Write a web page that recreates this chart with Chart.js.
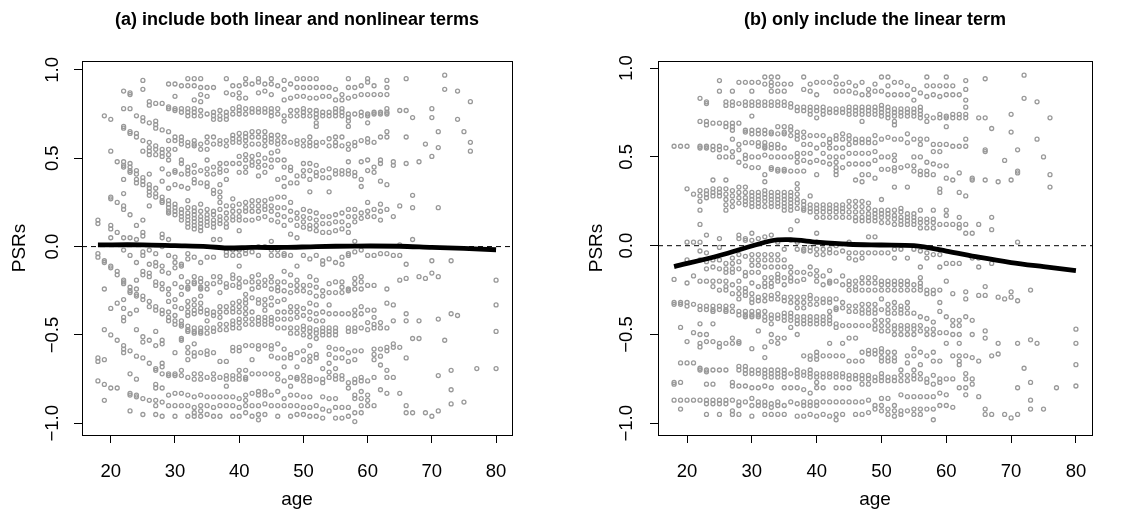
<!DOCTYPE html>
<html>
<head>
<title>PSRs vs age</title>
<script src="https://cdn.jsdelivr.net/npm/chart.js"></script>
<style>
  body { margin: 0; background: #fff; }
  .panel { position: absolute; top: 0; width: 572px; height: 523px; }
  #panelA { left: 0; }
  #panelB { left: 572px; }
</style>
</head>
<body>
<div class="panel" id="panelA"><canvas id="chartA" width="572" height="523"></canvas></div>
<div class="panel" id="panelB"><canvas id="chartB" width="572" height="523"></canvas></div>
<script>
const titleA = '(a) include both linear and nonlinear terms';
const titleB = '(b) only include the linear term';
const xTicks = [20, 30, 40, 50, 60, 70, 80];
const yTicks = [-1, -0.5, 0, 0.5, 1];

// ages that have observations (one list of PSR values per age, per panel)
const ages = [18,19,20,21,22,23,24,25,26,27,28,29,30,31,32,33,34,35,36,37,38,39,40,41,42,43,44,45,46,47,
  48,49,50,51,52,53,54,55,56,57,58,59,60,61,62,63,64,65,66,67,68,69,70,71,72,73,74,75,76,77,80];

const psrA = [
  [0.15,0.13,-0.04,-0.06,-0.63,-0.65,-0.76],
  [0.74,-0.08,-0.09,-0.24,-0.47,-0.64,-0.78,-0.87],
  [0.72,0.54,0.28,0.27,0.12,0.10,0.05,-0.11,-0.12,-0.35,-0.50,-0.80],
  [0.48,0.25,0.08,-0.14,-0.16,-0.32,-0.53,-0.80],
  [0.88,0.78,0.68,0.67,0.48,0.46,0.45,0.38,0.30,0.23,0.21,0.05,-0.02,-0.19,-0.20,-0.21,-0.30,-0.35,-0.40,-0.42,-0.56,-0.58,-0.60],
  [0.87,0.86,0.78,0.65,0.64,0.47,0.45,0.43,0.42,0.18,0.05,-0.05,-0.23,-0.25,-0.26,-0.38,-0.59,-0.72,-0.83,-0.84,-0.93],
  [0.74,0.64,0.62,0.43,0.41,0.38,0.36,0.12,0.04,-0.09,-0.19,-0.24,-0.27,-0.28,-0.36,-0.47,-0.62,-0.75,-0.84,-0.85],
  [0.94,0.89,0.73,0.71,0.60,0.54,0.39,0.37,0.35,0.15,0.08,0.06,-0.03,-0.05,-0.14,-0.16,-0.28,-0.30,-0.51,-0.54,-0.63,-0.86,-0.95],
  [0.82,0.80,0.70,0.59,0.56,0.54,0.52,0.41,0.35,0.33,0.31,0.29,0.23,-0.02,-0.10,-0.15,-0.17,-0.31,-0.34,-0.53,-0.66,-0.87],
  [0.81,0.71,0.69,0.67,0.57,0.55,0.52,0.33,0.30,0.28,-0.04,-0.09,-0.11,-0.20,-0.22,-0.34,-0.36,-0.48,-0.56,-0.69,-0.70,-0.78,-0.80,-0.87,-0.90,-0.95],
  [0.81,0.66,0.55,0.53,0.51,0.44,0.37,0.28,0.26,0.25,0.07,0.05,0.00,-0.11,-0.14,-0.21,-0.24,-0.36,-0.38,-0.53,-0.55,-0.66,-0.68,-0.72,-0.80,-0.88,-0.96],
  [0.92,0.79,0.78,0.65,0.60,0.55,0.52,0.49,0.41,0.33,0.26,0.24,0.22,0.20,0.19,0.04,-0.05,-0.15,-0.24,-0.27,-0.31,-0.37,-0.40,-0.42,-0.72,-0.73,-0.84,-0.90],
  [0.92,0.85,0.78,0.77,0.62,0.60,0.55,0.43,0.42,0.35,0.24,0.22,0.20,0.18,-0.06,-0.09,-0.12,-0.21,-0.30,-0.34,-0.39,-0.42,-0.44,-0.60,-0.72,-0.73,-0.83,-0.90,-0.96],
  [0.91,0.78,0.76,0.62,0.60,0.58,0.49,0.47,0.41,0.34,0.21,0.19,0.17,0.15,-0.10,-0.11,-0.17,-0.23,-0.27,-0.35,-0.42,-0.44,-0.45,-0.52,-0.53,-0.70,-0.73,-0.83,-0.90],
  [0.95,0.91,0.78,0.76,0.74,0.59,0.57,0.45,0.43,0.41,0.33,0.26,0.22,0.19,0.17,0.15,0.13,0.11,-0.04,-0.07,-0.20,-0.23,-0.24,-0.31,-0.34,-0.37,-0.39,-0.45,-0.47,-0.48,-0.57,-0.60,-0.64,-0.74,-0.84,-0.90,-0.96],
  [0.95,0.91,0.83,0.78,0.76,0.74,0.60,0.58,0.57,0.46,0.42,0.38,0.36,0.22,0.20,0.18,0.16,0.14,0.12,0.10,-0.06,-0.17,-0.20,-0.21,-0.30,-0.33,-0.36,-0.38,-0.46,-0.48,-0.49,-0.55,-0.60,-0.62,-0.72,-0.75,-0.85,-0.91,-0.94,-0.96],
  [0.95,0.90,0.86,0.82,0.77,0.74,0.58,0.55,0.43,0.36,0.24,0.20,0.17,0.15,0.13,0.11,0.09,-0.09,-0.18,-0.20,-0.23,-0.24,-0.28,-0.32,-0.35,-0.37,-0.46,-0.48,-0.49,-0.60,-0.72,-0.75,-0.84,-0.90,-0.93,-0.96],
  [0.90,0.85,0.75,0.62,0.59,0.55,0.49,0.44,0.41,0.36,0.34,0.21,0.18,0.16,0.14,0.12,-0.06,-0.21,-0.24,-0.36,-0.38,-0.42,-0.46,-0.49,-0.59,-0.61,-0.74,-0.85,-0.90,-0.95],
  [0.90,0.76,0.74,0.72,0.62,0.58,0.45,0.41,0.32,0.30,0.20,0.18,0.15,0.13,0.11,0.04,-0.06,-0.17,-0.21,-0.37,-0.39,-0.46,-0.48,-0.60,-0.72,-0.75,-0.85,-0.91,-0.96],
  [0.77,0.74,0.72,0.60,0.58,0.47,0.44,0.42,0.35,0.31,0.28,0.25,0.21,0.17,0.15,0.13,0.04,-0.17,-0.20,-0.26,-0.34,-0.37,-0.40,-0.44,-0.47,-0.65,-0.74,-0.85,-0.90,-0.96],
  [0.95,0.87,0.76,0.74,0.72,0.60,0.57,0.47,0.43,0.38,0.23,0.19,0.16,0.13,0.11,-0.03,-0.05,-0.21,-0.23,-0.34,-0.37,-0.44,-0.47,-0.65,-0.73,-0.75,-0.79,-0.85,-0.90],
  [0.91,0.86,0.78,0.75,0.63,0.61,0.59,0.47,0.27,0.23,0.20,0.17,0.15,-0.02,-0.05,-0.16,-0.18,-0.22,-0.32,-0.35,-0.37,-0.42,-0.44,-0.46,-0.57,-0.59,-0.73,-0.75,-0.85,-0.90,-0.96],
  [0.91,0.87,0.84,0.79,0.77,0.75,0.64,0.61,0.59,0.51,0.47,0.42,0.24,0.20,0.17,0.15,0.09,-0.02,-0.05,-0.11,-0.18,-0.21,-0.23,-0.31,-0.34,-0.37,-0.41,-0.43,-0.46,-0.57,-0.59,-0.70,-0.73,-0.75,-0.86,-0.91,-0.96],
  [0.95,0.92,0.84,0.78,0.75,0.64,0.62,0.60,0.57,0.52,0.49,0.45,0.42,0.25,0.22,0.20,0.15,-0.02,-0.04,-0.20,-0.27,-0.30,-0.32,-0.35,-0.38,-0.41,-0.44,-0.56,-0.70,-0.74,-0.75,-0.84,-0.87,-0.90,-0.94],
  [0.92,0.78,0.76,0.65,0.62,0.58,0.51,0.48,0.46,0.26,0.23,0.20,0.15,-0.03,-0.17,-0.20,-0.24,-0.29,-0.37,-0.41,-0.44,-0.56,-0.64,-0.72,-0.83,-0.90,-0.96],
  [0.95,0.93,0.87,0.78,0.76,0.65,0.62,0.58,0.52,0.48,0.45,0.40,0.26,0.23,0.20,0.16,0.00,-0.05,-0.16,-0.20,-0.23,-0.30,-0.32,-0.40,-0.42,-0.44,-0.56,-0.58,-0.72,-0.82,-0.84,-0.90,-0.95,-0.98],
  [0.92,0.88,0.78,0.76,0.65,0.62,0.60,0.57,0.50,0.46,0.42,0.26,0.23,0.21,0.17,0.00,-0.19,-0.22,-0.30,-0.33,-0.36,-0.40,-0.42,-0.44,-0.56,-0.72,-0.82,-0.84,-0.89,-0.95],
  [0.95,0.92,0.86,0.78,0.76,0.74,0.63,0.61,0.59,0.53,0.49,0.45,0.27,0.23,0.20,0.15,0.03,-0.02,-0.05,-0.17,-0.20,-0.24,-0.29,-0.33,-0.40,-0.42,-0.44,-0.56,-0.58,-0.62,-0.72,-0.84,-0.90],
  [0.91,0.78,0.75,0.63,0.60,0.58,0.54,0.49,0.38,0.28,0.22,0.18,0.14,-0.02,-0.05,-0.20,-0.23,-0.25,-0.31,-0.37,-0.41,-0.46,-0.55,-0.63,-0.72,-0.75,-0.82,-0.90,-0.96],
  [0.94,0.89,0.83,0.74,0.71,0.62,0.59,0.49,0.45,0.39,0.34,0.28,0.22,0.17,0.12,-0.04,-0.05,-0.14,-0.20,-0.25,-0.30,-0.37,-0.41,-0.46,-0.58,-0.63,-0.68,-0.76,-0.86,-0.90],
  [0.92,0.84,0.77,0.74,0.59,0.45,0.43,0.36,0.25,0.20,0.15,0.07,-0.05,-0.16,-0.22,-0.26,-0.34,-0.37,-0.41,-0.46,-0.49,-0.61,-0.63,-0.74,-0.79,-0.84,-0.90,-0.96],
  [0.95,0.90,0.85,0.77,0.74,0.60,0.58,0.40,0.36,0.19,0.16,0.12,0.05,-0.11,-0.19,-0.22,-0.25,-0.34,-0.37,-0.40,-0.46,-0.49,-0.60,-0.68,-0.74,-0.75,-0.84,-0.90,-0.95],
  [0.95,0.90,0.85,0.78,0.76,0.74,0.60,0.57,0.47,0.43,0.40,0.21,0.17,0.14,0.11,-0.05,-0.22,-0.25,-0.35,-0.39,-0.45,-0.47,-0.50,-0.59,-0.64,-0.73,-0.76,-0.85,-0.91,-0.95],
  [0.95,0.90,0.84,0.77,0.74,0.62,0.59,0.57,0.47,0.43,0.38,0.31,0.20,0.16,0.12,0.10,-0.07,-0.17,-0.22,-0.26,-0.32,-0.37,-0.41,-0.46,-0.48,-0.51,-0.56,-0.62,-0.65,-0.74,-0.76,-0.85,-0.91,-0.96],
  [0.95,0.90,0.84,0.77,0.75,0.73,0.70,0.68,0.59,0.57,0.46,0.42,0.40,0.19,0.15,0.12,0.09,-0.05,-0.19,-0.23,-0.28,-0.33,-0.38,-0.42,-0.47,-0.49,-0.52,-0.61,-0.63,-0.75,-0.90,-0.96],
  [0.90,0.85,0.76,0.74,0.59,0.43,0.39,0.17,0.13,0.08,-0.08,-0.10,-0.25,-0.28,-0.37,-0.42,-0.46,-0.48,-0.50,-0.69,-0.75,-0.77,-0.85,-0.92,-0.97],
  [0.90,0.85,0.76,0.74,0.61,0.57,0.44,0.39,0.31,0.17,0.13,0.08,-0.07,-0.21,-0.26,-0.33,-0.38,-0.46,-0.48,-0.50,-0.57,-0.61,-0.66,-0.71,-0.74,-0.86,-0.93],
  [0.89,0.83,0.78,0.76,0.74,0.62,0.59,0.57,0.43,0.41,0.18,0.14,0.09,-0.09,-0.20,-0.26,-0.38,-0.46,-0.48,-0.50,-0.58,-0.63,-0.69,-0.73,-0.75,-0.86,-0.91,-0.97],
  [0.86,0.83,0.78,0.76,0.74,0.62,0.57,0.43,0.41,0.19,0.14,0.10,-0.06,-0.10,-0.20,-0.23,-0.26,-0.38,-0.58,-0.63,-0.73,-0.75,-0.91,-0.97],
  [0.95,0.90,0.84,0.75,0.73,0.71,0.68,0.58,0.55,0.48,0.43,0.41,0.21,0.17,0.12,0.08,-0.04,-0.05,-0.24,-0.25,-0.38,-0.46,-0.48,-0.60,-0.65,-0.77,-0.80,-0.91,-0.96],
  [0.90,0.85,0.75,0.59,0.57,0.42,0.40,0.21,0.17,0.14,0.03,-0.03,-0.18,-0.21,-0.24,-0.36,-0.39,-0.46,-0.48,-0.59,-0.64,-0.75,-0.77,-0.84,-0.86,-0.94,-0.99],
  [0.91,0.86,0.76,0.74,0.60,0.48,0.38,0.34,0.19,0.16,-0.02,-0.17,-0.20,-0.24,-0.34,-0.38,-0.46,-0.59,-0.74,-0.76,-0.82,-0.86,-0.90,-0.94],
  [0.95,0.93,0.86,0.75,0.74,0.70,0.61,0.59,0.49,0.43,0.25,0.20,0.17,-0.05,-0.22,-0.36,-0.43,-0.47,-0.76,-0.84,-0.87,-0.90],
  [0.91,0.86,0.76,0.75,0.59,0.45,0.42,0.21,0.17,-0.05,-0.22,-0.36,-0.40,-0.44,-0.46,-0.58,-0.61,-0.64,-0.74,-0.90],
  [0.86,0.76,0.75,0.62,0.49,0.47,0.37,0.24,0.20,0.15,-0.04,-0.43,-0.46,-0.58,-0.62,-0.67,-0.81],
  [0.94,0.90,0.86,0.78,0.76,0.75,0.65,0.62,0.35,0.21,-0.04,-0.24,-0.32,-0.46,-0.57,-0.59,-0.70,-0.74,-0.83],
  [0.48,0.46,0.17,-0.05,-0.33,-0.42,-0.55,-0.57,-0.74],
  [0.77,0.23,0.01,-0.05,-0.19,-0.57,-0.83],
  [0.95,0.77,0.62,0.47,-0.10,-0.18,-0.38,-0.42,-0.63,-0.90,-0.94],
  [0.73,0.29,0.22,0.04,-0.52,-0.94],
  [0.48,-0.17,-0.42,-0.52],
  [0.58,-0.18,-0.94],
  [0.78,0.73,0.51,-0.08,-0.15,-0.96],
  [0.65,0.56,0.22,-0.17,-0.41,-0.73,-0.93],
  [0.97,0.89,-0.53],
  [-0.08,-0.38,-0.70,-0.81,-0.89],
  [0.88,0.72,-0.39],
  [0.65,-0.88],
  [0.82,0.59,0.54],
  [-0.69],
  [-0.19,-0.33,-0.48,-0.69]
];

const psrB = [
  [0.56,-0.19,-0.32,-0.33,-0.77,-0.78,-0.87],
  [0.56,-0.32,-0.33,-0.46,-0.66,-0.77,-0.87,-0.92],
  [0.56,0.32,0.02,-0.08,-0.21,-0.32,-0.34,-0.54,-0.66,-0.87],
  [0.29,0.02,-0.17,-0.33,-0.49,-0.66,-0.87],
  [0.83,0.70,0.56,0.55,0.31,0.28,0.25,0.20,0.12,0.02,-0.03,-0.08,-0.20,-0.34,-0.36,-0.44,-0.50,-0.55,-0.57,-0.69,-0.70,-0.87],
  [0.81,0.80,0.70,0.68,0.56,0.55,0.31,0.29,0.27,0.06,-0.04,-0.09,-0.13,-0.20,-0.34,-0.36,-0.50,-0.54,-0.70,-0.71,-0.78,-0.87,-0.89,-0.95],
  [0.69,0.56,0.54,0.37,0.32,0.30,0.28,-0.08,-0.12,-0.20,-0.23,-0.34,-0.36,-0.37,-0.44,-0.54,-0.70,-0.78,-0.87,-0.89],
  [0.93,0.87,0.69,0.56,0.54,0.50,0.32,0.30,0.28,0.04,-0.01,-0.08,-0.13,-0.20,-0.25,-0.34,-0.36,-0.55,-0.57,-0.70,-0.87,-0.89,-0.95],
  [0.81,0.79,0.69,0.67,0.55,0.50,0.37,0.32,0.29,0.26,0.23,0.20,-0.10,-0.13,-0.15,-0.20,-0.23,-0.25,-0.34,-0.36,-0.37,-0.55,-0.70,-0.87,-0.89],
  [0.87,0.81,0.79,0.69,0.67,0.65,0.60,0.53,0.50,0.31,0.28,0.25,0.22,-0.07,-0.10,-0.13,-0.15,-0.22,-0.27,-0.34,-0.37,-0.52,-0.55,-0.77,-0.79,-0.87,-0.93,-0.95],
  [0.92,0.80,0.69,0.57,0.54,0.47,0.33,0.30,0.27,0.24,0.06,0.04,-0.05,-0.09,-0.13,-0.20,-0.24,-0.27,-0.30,-0.37,-0.39,-0.54,-0.55,-0.68,-0.70,-0.79,-0.88,-0.90,-0.95],
  [0.92,0.81,0.79,0.65,0.64,0.58,0.51,0.49,0.45,0.33,0.30,0.27,0.25,0.23,0.04,0.03,-0.06,-0.15,-0.17,-0.24,-0.26,-0.28,-0.37,-0.39,-0.40,-0.68,-0.70,-0.72,-0.79,-0.88],
  [0.92,0.87,0.81,0.79,0.73,0.65,0.63,0.58,0.50,0.44,0.30,0.28,0.26,0.24,0.22,0.07,0.03,-0.05,-0.08,-0.11,-0.15,-0.21,-0.27,-0.30,-0.32,-0.37,-0.39,-0.40,-0.58,-0.70,-0.72,-0.80,-0.86,-0.90,-0.96],
  [0.92,0.81,0.79,0.65,0.63,0.58,0.56,0.50,0.44,0.30,0.28,0.26,0.24,0.22,0.04,-0.05,-0.08,-0.11,-0.15,-0.23,-0.29,-0.31,-0.37,-0.39,-0.40,-0.48,-0.70,-0.72,-0.80,-0.88,-0.90],
  [0.95,0.91,0.81,0.79,0.65,0.63,0.58,0.56,0.55,0.51,0.40,0.36,0.31,0.29,0.27,0.25,0.22,0.05,-0.05,-0.08,-0.12,-0.18,-0.21,-0.23,-0.28,-0.31,-0.37,-0.40,-0.42,-0.57,-0.63,-0.70,-0.72,-0.74,-0.79,-0.88,-0.90,-0.95],
  [0.95,0.92,0.90,0.87,0.81,0.79,0.64,0.63,0.57,0.55,0.50,0.44,0.43,0.30,0.28,0.26,0.24,0.22,0.06,-0.05,-0.08,-0.12,-0.18,-0.21,-0.23,-0.28,-0.30,-0.39,-0.41,-0.44,-0.50,-0.54,-0.70,-0.72,-0.74,-0.80,-0.89,-0.91,-0.95],
  [0.95,0.91,0.87,0.81,0.79,0.67,0.63,0.57,0.55,0.50,0.43,0.42,0.30,0.28,0.26,0.24,0.22,0.02,-0.05,-0.08,-0.12,-0.16,-0.18,-0.20,-0.27,-0.30,-0.39,-0.41,-0.52,-0.55,-0.70,-0.72,-0.74,-0.88,-0.90,-0.95],
  [0.91,0.87,0.81,0.79,0.67,0.64,0.63,0.55,0.50,0.43,0.42,0.30,0.28,0.26,0.24,0.22,0.20,-0.02,-0.08,-0.12,-0.18,-0.22,-0.29,-0.31,-0.38,-0.40,-0.42,-0.52,-0.70,-0.72,-0.74,-0.80,-0.90,-0.95],
  [0.91,0.80,0.78,0.67,0.65,0.62,0.50,0.42,0.30,0.28,0.26,0.24,0.22,0.20,0.09,0.03,-0.12,-0.15,-0.18,-0.20,-0.29,-0.32,-0.38,-0.40,-0.42,-0.46,-0.72,-0.80,-0.88],
  [0.78,0.76,0.64,0.62,0.60,0.52,0.50,0.47,0.42,0.35,0.32,0.29,0.26,0.24,0.21,0.14,0.02,-0.02,-0.15,-0.20,-0.29,-0.32,-0.35,-0.40,-0.42,-0.44,-0.50,-0.70,-0.72,-0.74,-0.80,-0.89,-0.96],
  [0.95,0.88,0.78,0.76,0.64,0.61,0.57,0.52,0.48,0.42,0.25,0.23,0.21,0.20,-0.02,-0.03,-0.15,-0.19,-0.29,-0.32,-0.35,-0.40,-0.42,-0.44,-0.62,-0.71,-0.73,-0.81,-0.88,-0.90,-0.96],
  [0.91,0.87,0.78,0.76,0.74,0.62,0.57,0.52,0.47,0.28,0.23,0.21,0.19,-0.01,-0.03,-0.12,-0.16,-0.28,-0.30,-0.33,-0.40,-0.42,-0.44,-0.62,-0.64,-0.70,-0.72,-0.74,-0.83,-0.88,-0.90,-0.95],
  [0.92,0.85,0.78,0.76,0.72,0.62,0.55,0.48,0.40,0.23,0.21,0.19,0.16,0.07,0.02,-0.02,-0.05,-0.14,-0.17,-0.20,-0.30,-0.33,-0.40,-0.42,-0.44,-0.60,-0.62,-0.64,-0.72,-0.74,-0.77,-0.80,-0.88,-0.90,-0.96],
  [0.92,0.78,0.76,0.74,0.62,0.57,0.52,0.47,0.23,0.21,0.19,0.16,-0.02,-0.05,-0.17,-0.22,-0.30,-0.32,-0.40,-0.42,-0.44,-0.62,-0.72,-0.74,-0.80,-0.88,-0.95],
  [0.92,0.77,0.75,0.60,0.58,0.55,0.50,0.46,0.23,0.21,0.19,0.16,-0.02,-0.04,-0.14,-0.20,-0.21,-0.30,-0.32,-0.37,-0.40,-0.42,-0.44,-0.55,-0.62,-0.72,-0.74,-0.88,-0.96],
  [0.95,0.91,0.87,0.77,0.75,0.62,0.60,0.55,0.50,0.47,0.44,0.42,0.40,0.23,0.21,0.19,0.16,0.00,-0.04,-0.20,-0.30,-0.35,-0.36,-0.44,-0.46,-0.62,-0.72,-0.74,-0.80,-0.88,-0.95,-0.98],
  [0.91,0.87,0.77,0.75,0.63,0.60,0.55,0.50,0.44,0.23,0.21,0.19,0.16,-0.03,-0.17,-0.22,-0.32,-0.35,-0.45,-0.55,-0.62,-0.72,-0.74,-0.80,-0.88,-0.95],
  [0.92,0.87,0.78,0.76,0.74,0.62,0.60,0.57,0.52,0.46,0.25,0.22,0.19,0.16,0.02,-0.04,-0.07,-0.20,-0.22,-0.25,-0.34,-0.37,-0.45,-0.52,-0.65,-0.73,-0.75,-0.80,-0.88],
  [0.90,0.86,0.78,0.76,0.74,0.60,0.58,0.52,0.46,0.37,0.25,0.22,0.19,0.16,0.14,-0.04,-0.08,-0.20,-0.23,-0.25,-0.34,-0.37,-0.45,-0.52,-0.65,-0.73,-0.75,-0.88,-0.95],
  [0.92,0.85,0.78,0.76,0.74,0.70,0.60,0.58,0.52,0.46,0.40,0.36,0.25,0.22,0.19,0.16,0.14,-0.04,-0.07,-0.18,-0.21,-0.25,-0.33,-0.36,-0.38,-0.45,-0.60,-0.65,-0.73,-0.75,-0.78,-0.88,-0.95],
  [0.88,0.85,0.78,0.76,0.74,0.60,0.58,0.52,0.46,0.40,0.24,0.21,0.18,0.16,0.14,0.05,-0.04,-0.18,-0.21,-0.25,-0.33,-0.36,-0.38,-0.45,-0.59,-0.61,-0.73,-0.75,-0.78,-0.87,-0.94],
  [0.91,0.87,0.78,0.76,0.74,0.62,0.58,0.53,0.48,0.38,0.20,0.18,0.16,0.14,0.05,-0.04,-0.18,-0.21,-0.25,-0.33,-0.36,-0.38,-0.42,-0.45,-0.47,-0.59,-0.61,-0.74,-0.76,-0.90,-0.92],
  [0.95,0.87,0.79,0.77,0.75,0.73,0.60,0.50,0.43,0.26,0.20,0.18,0.16,0.13,-0.04,-0.20,-0.22,-0.25,-0.30,-0.36,-0.42,-0.45,-0.48,-0.58,-0.60,-0.63,-0.65,-0.72,-0.74,-0.76,-0.86,-0.90,-0.93],
  [0.95,0.90,0.85,0.78,0.76,0.74,0.72,0.61,0.50,0.43,0.20,0.18,0.16,0.13,-0.04,-0.20,-0.22,-0.25,-0.33,-0.36,-0.38,-0.42,-0.45,-0.48,-0.60,-0.63,-0.65,-0.74,-0.76,-0.86,-0.92,-0.95],
  [0.92,0.85,0.77,0.75,0.73,0.70,0.68,0.60,0.51,0.48,0.44,0.42,0.33,0.20,0.17,0.15,0.12,-0.02,-0.07,-0.20,-0.22,-0.25,-0.32,-0.35,-0.38,-0.45,-0.47,-0.50,-0.60,-0.63,-0.65,-0.74,-0.76,-0.90,-0.93,-0.96],
  [0.92,0.85,0.77,0.75,0.73,0.60,0.44,0.21,0.19,0.16,0.14,0.12,-0.02,-0.20,-0.22,-0.25,-0.34,-0.36,-0.38,-0.45,-0.47,-0.50,-0.70,-0.73,-0.76,-0.84,-0.93,-0.95],
  [0.90,0.85,0.77,0.75,0.73,0.63,0.58,0.45,0.33,0.18,0.16,0.14,0.12,-0.07,-0.20,-0.22,-0.25,-0.32,-0.35,-0.38,-0.45,-0.47,-0.50,-0.62,-0.66,-0.73,-0.76,-0.85,-0.93],
  [0.88,0.82,0.77,0.75,0.73,0.60,0.50,0.45,0.42,0.18,0.16,0.14,0.12,-0.02,-0.22,-0.25,-0.38,-0.45,-0.47,-0.50,-0.58,-0.62,-0.70,-0.73,-0.75,-0.85,-0.92,-0.95],
  [0.86,0.78,0.76,0.74,0.72,0.60,0.57,0.50,0.42,0.40,0.20,0.15,0.13,0.10,-0.03,-0.12,-0.18,-0.21,-0.23,-0.25,-0.40,-0.45,-0.48,-0.60,-0.67,-0.72,-0.75,-0.85,-0.92,-0.95],
  [0.95,0.90,0.84,0.73,0.70,0.60,0.47,0.42,0.40,0.15,0.13,0.10,-0.04,-0.07,-0.25,-0.27,-0.41,-0.47,-0.50,-0.62,-0.75,-0.77,-0.85,-0.92],
  [0.90,0.85,0.72,0.57,0.53,0.46,0.40,0.20,0.15,0.13,0.10,-0.05,-0.25,-0.27,-0.43,-0.47,-0.50,-0.60,-0.65,-0.73,-0.78,-0.85,-0.92,-0.98],
  [0.90,0.84,0.74,0.72,0.57,0.53,0.45,0.32,0.30,0.12,-0.05,-0.12,-0.25,-0.32,-0.37,-0.49,-0.65,-0.75,-0.77,-0.83,-0.90],
  [0.95,0.90,0.85,0.73,0.72,0.67,0.57,0.45,0.38,0.20,0.17,0.12,-0.10,-0.20,-0.40,-0.49,-0.55,-0.75,-0.84,-0.90],
  [0.90,0.85,0.74,0.72,0.56,0.37,0.12,-0.10,-0.27,-0.42,-0.45,-0.50,-0.62,-0.75,-0.91],
  [0.85,0.74,0.72,0.56,0.41,0.30,0.16,0.12,0.10,-0.10,-0.42,-0.45,-0.50,-0.55,-0.62,-0.65,-0.67,-0.80],
  [0.93,0.88,0.82,0.78,0.74,0.72,0.60,0.56,0.28,0.12,0.07,-0.26,-0.30,-0.40,-0.62,-0.72,-0.75,-0.80,-0.84],
  [0.38,0.37,0.07,-0.07,-0.42,-0.50,-0.63,-0.75,-0.78],
  [0.72,0.12,-0.07,-0.12,-0.28,-0.65,-0.85],
  [0.94,0.72,0.54,0.53,0.37,-0.23,-0.28,-0.48,-0.52,-0.92,-0.95],
  [0.66,0.16,0.09,-0.10,-0.62,-0.95],
  [0.36,-0.29,-0.55,-0.61],
  [0.48,-0.30,-0.95],
  [0.74,0.64,0.37,-0.26,-0.29,-0.97],
  [0.54,0.42,0.41,0.02,-0.31,-0.55,-0.80,-0.95],
  [0.96,0.83,-0.69],
  [-0.25,-0.53,-0.77,-0.87,-0.92],
  [0.81,0.60,-0.55],
  [0.50,-0.92],
  [0.72,0.40,0.33],
  [-0.80],
  [-0.47,-0.55,-0.67,-0.79]
];

// smoothed fits (thick black lines)
const fitAgesA = [18, 25, 30, 35, 38, 42, 47, 52, 58, 65, 70, 75, 80];
const fitA = [0.010, 0.010, 0.005, 0.000, -0.008, -0.005, -0.005, 0.000, 0.003, 0.002, -0.005, -0.010, -0.018];
const fitAgesB = [18, 25, 33, 36, 40, 45, 50, 55, 60, 65, 70, 75, 80];
const fitB = [-0.118, -0.055, 0.028, 0.034, 0.020, 0.008, 0.004, 0.000, -0.030, -0.065, -0.095, -0.118, -0.140];

const xMin = 15.52, xMax = 82.48;
const fontFamily = "'Liberation Sans', Arial, Helvetica, sans-serif";

function fmtY(v) {
  return v < 0 ? '\u2212' + Math.abs(v).toFixed(1) : v.toFixed(1);
}

function makePanel(id, title, psr, fitAges, fit, opt) {
  const points = [];
  ages.forEach((a, i) => psr[i].forEach(v => points.push({x: a, y: v})));

  const frame = {
    id: 'frame',
    afterDraw(chart) {
      const {ctx, chartArea: ca} = chart;
      ctx.save();
      ctx.strokeStyle = '#000';
      ctx.lineWidth = 1;
      ctx.strokeRect(Math.round(ca.left) + 0.5, Math.round(ca.top) + 0.5,
        Math.round(ca.right - ca.left), Math.round(ca.bottom - ca.top));
      ctx.fillStyle = '#000';
      ctx.font = 'bold 18px ' + fontFamily;
      ctx.textAlign = 'center';
      ctx.textBaseline = 'alphabetic';
      ctx.fillText(title, (ca.left + ca.right) / 2, 25);
      ctx.restore();
    }
  };

  new Chart(document.getElementById(id), {
    type: 'scatter',
    data: {
      datasets: [
        {
          data: fitAges.map((a, i) => ({x: a, y: fit[i]})),
          showLine: true, borderColor: '#000', borderWidth: 4.8,
          pointRadius: 0, tension: 0.3, order: 0
        },
        {
          data: [{x: xMin, y: 0}, {x: xMax, y: 0}],
          showLine: true, borderColor: '#000', borderWidth: 1,
          borderDash: [5, 4], pointRadius: 0, order: 1
        },
        {
          data: points,
          pointStyle: 'circle', pointRadius: 2, borderWidth: 1.3,
          borderColor: '#999999', backgroundColor: 'rgba(0,0,0,0)', order: 2
        }
      ]
    },
    options: {
      responsive: false,
      animation: false,
      devicePixelRatio: 1,
      layout: {padding: {left: 0, right: opt.padRight, top: 61, bottom: 0}},
      plugins: {legend: {display: false}, tooltip: {enabled: false}},
      scales: {
        x: {
          type: 'linear', min: xMin, max: xMax,
          afterBuildTicks: s => { s.ticks = xTicks.map(v => ({value: v})); },
          afterFit: s => { s.height = 88; },
          grid: {drawOnChartArea: false, drawTicks: true, tickLength: 8, color: '#000'},
          border: {display: true, color: '#000'},
          ticks: {color: '#000', font: {family: fontFamily, size: 18.5}, padding: 18,
            maxRotation: 0, autoSkip: false, callback: v => String(v)},
          title: {display: true, text: 'age', color: '#000',
            font: {family: fontFamily, size: 19}, padding: {top: 0, bottom: 11.6}}
        },
        y: {
          type: 'linear', min: -1.066, max: opt.yMax,
          afterBuildTicks: s => { s.ticks = yTicks.map(v => ({value: v})); },
          afterFit: s => { s.width = opt.yWidth; },
          grid: {drawOnChartArea: false, drawTicks: true, tickLength: 8, color: '#000'},
          border: {display: true, color: '#000'},
          ticks: {color: '#000', font: {family: fontFamily, size: 18.5}, padding: opt.tickPad,
            minRotation: 90, maxRotation: 90, crossAlign: 'center', autoSkip: false, callback: fmtY},
          title: {display: true, text: 'PSRs', color: '#000',
            font: {family: fontFamily, size: 19}, padding: {top: opt.titlePad, bottom: 0}}
        }
      }
    },
    plugins: [frame]
  });
}

makePanel('chartA', titleA, psrA, fitAgesA, fitA, {padRight: 60, yWidth: 82, yMax: 1.05, tickPad: 2.4, titlePad: 8.6});
makePanel('chartB', titleB, psrB, fitAgesB, fitB, {padRight: 52, yWidth: 86, yMax: 1.04, tickPad: 4.7, titlePad: 13.6});
</script>
</body>
</html>
